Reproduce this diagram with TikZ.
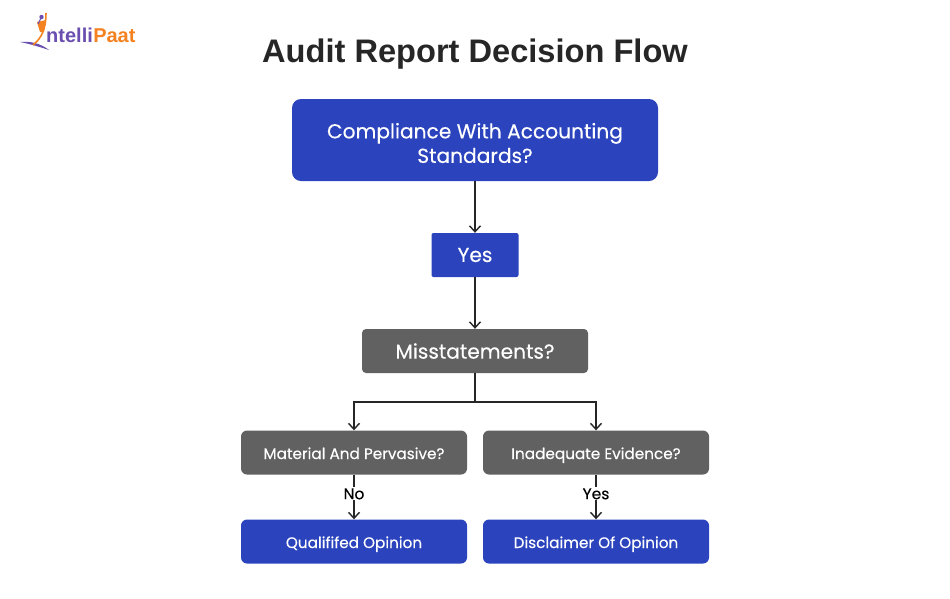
\documentclass[tikz,border=0pt]{standalone}
\usepackage{fontspec}
\newfontfamily\popf{Poppins}[FakeBold=0.25]
\newfontfamily\titlef{Liberation Sans}
\usetikzlibrary{arrows.meta}
\definecolor{bluebox}{HTML}{2B44BE}
\definecolor{greybox}{HTML}{616161}
\definecolor{ink}{HTML}{262626}
\definecolor{logopurple}{HTML}{6A4FB0}
\definecolor{logoorange}{HTML}{F58220}
\tikzset{
  x=1pt,y=-1pt,
  boxbase/.style={rounded corners=6pt,text=white,inner sep=0pt,align=center},
  bluefill/.style={boxbase,fill=bluebox},
  greyfill/.style={boxbase,fill=greybox},
  bigtext/.style={font=\popf\fontsize{20.2}{24.5}\selectfont},
  smalltext/.style={font=\popf\fontsize{15.25}{18}\selectfont},
  link/.style={draw=ink,line width=1.4pt,-{Straight Barb[length=6pt,width=11pt,line width=1.4pt]}},
  plainlink/.style={draw=ink,line width=1.4pt},
  edgelabel/.style={fill=white,text=black,inner sep=1pt,font=\popf\fontsize{15.5}{17}\selectfont}
}
\begin{document}
\begin{tikzpicture}
\useasboundingbox (0,0) rectangle (950,598);
\fill[white] (0,0) rectangle (950,598);
% logo
\fill[logopurple] (20,42) .. controls (30,41) and (40,43) .. (49,50) .. controls (40,47) and (30,44) .. (20,42) -- cycle;
\draw[logoorange,line width=1.6pt] (46,13) .. controls (46,28) and (42,38) .. (33,45);
\fill[logoorange] (37,22) -- (46,20) -- (44,32) -- (40,32) -- cycle;
\fill[logopurple] (41.5,17) circle (2.2pt);
\draw[logopurple,line width=1pt] (38,24) -- (41,18);
\node[anchor=base west,inner sep=0pt,font=\titlef\bfseries\fontsize{20}{22}\selectfont,text=logopurple] (logoa) at (46,42) {ntelli};
\node[anchor=base west,inner sep=0pt,font=\titlef\bfseries\fontsize{20}{22}\selectfont,text=logoorange] (logob) at (logoa.base east) {Paat};
% title
\node[font=\titlef\bfseries\fontsize{32.6}{38}\selectfont,text=ink,inner sep=0pt] (title) at (475,54) {Audit Report Decision Flow};
% boxes
\node[bluefill,rounded corners=9pt,minimum width=366pt,minimum height=82pt] (comp) at (475,140) {};
\node[bigtext,text=white,align=center,inner sep=0pt] (compt) at (475,143) {Compliance With Accounting\\Standards?};
\node[bluefill,rounded corners=2pt,minimum width=87pt,minimum height=44pt,bigtext] (yes) at (475,255) {Yes};
\node[greyfill,rounded corners=4pt,minimum width=226pt,minimum height=44pt,bigtext] (mis) at (475,351) {Misstatements?};
\node[greyfill,minimum width=226pt,minimum height=44pt] (mat) at (354,452.5) {};
\node[greyfill,minimum width=226pt,minimum height=44pt] (ina) at (596,452.5) {};
\node[bluefill,minimum width=226pt,minimum height=44pt] (qual) at (354,541.5) {};
\node[bluefill,minimum width=226pt,minimum height=44pt] (disc) at (596,541.5) {};
\node[smalltext,text=white,inner sep=0pt,anchor=base] (matt) at (354,459) {Material And Pervasive?};
\node[smalltext,text=white,inner sep=0pt,anchor=base] (inat) at (596,459) {Inadequate Evidence?};
\node[smalltext,text=white,inner sep=0pt,anchor=base] (qualt) at (354,548) {Qualififed Opinion};
\node[smalltext,text=white,inner sep=0pt,anchor=base] (disct) at (596,548) {Disclaimer Of Opinion};
% connectors
\draw[link] (comp) -- (yes);
\draw[link] (yes) -- (mis);
\coordinate (split) at (475,402);
\draw[plainlink] (mis) -- (split);
\draw[link] (split) -| (mat.north);
\draw[link] (split) -| (ina.north);
\draw[link] (mat) -- node[edgelabel,pos=.43] {No} (qual);
\draw[link] (ina) -- node[edgelabel,pos=.43] {Yes} (disc);
\end{tikzpicture}
\end{document}
